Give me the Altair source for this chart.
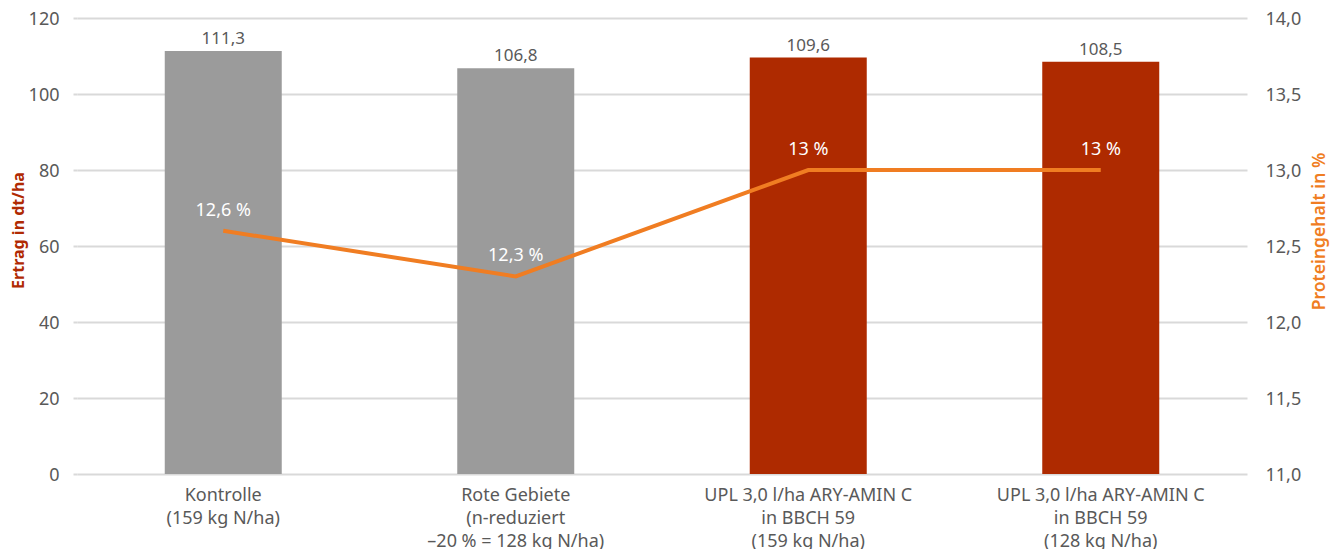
import altair as alt
import pandas as pd

categories = [
    "Kontrolle|(159 kg N/ha)",
    "Rote Gebiete|(n-reduziert|–20 % = 128 kg N/ha)",
    "UPL 3,0 l/ha ARY-AMIN C|in BBCH 59|(159 kg N/ha)",
    "UPL 3,0 l/ha ARY-AMIN C|in BBCH 59|(128 kg N/ha)",
]
ertrag = [111.3, 106.8, 109.6, 108.5]
protein = [12.6, 12.3, 13.0, 13.0]
groups = ["grau", "grau", "rot", "rot"]


def de(v, pct=False):
    s = f"{v:.1f}".replace(".", ",")
    if pct:
        s = (f"{v:.0f}" if float(v).is_integer() else s) + " %"
    return s


df = pd.DataFrame({
    "kat": categories,
    "ertrag": ertrag,
    "protein": protein,
    "gruppe": groups,
    "ertrag_lbl": [de(v) for v in ertrag],
    "protein_lbl": [de(v, True) for v in protein],
})

FONT = "Noto Sans"
GREY_TXT = "#595959"
FS = 18

x = alt.X(
    "kat:N",
    sort=categories,
    title=None,
    scale=alt.Scale(paddingInner=0.6, paddingOuter=0.3),
    axis=alt.Axis(
        labelExpr="split(datum.label, '|')",
        labelAngle=0,
        labelFontSize=FS,
        labelColor=GREY_TXT,
        labelFont=FONT,
        labelLineHeight=23,
        labelPadding=12,
        labelLimit=400,
        domain=False,
        ticks=False,
        labelBaseline="top",
    ),
)

left_axis = alt.Axis(
    values=[0, 20, 40, 60, 80, 100, 120],
    title="Ertrag in dt/ha",
    titleColor="#B02A02",
    titleFontSize=16,
    titleFont=FONT,
    titleFontWeight="bold",
    titleAngle=270,
    titleX=-59,
    titleY=212,
    titleAlign="center",
    titleBaseline="middle",
    labelFontSize=FS,
    labelColor=GREY_TXT,
    labelFont=FONT,
    labelPadding=14,
    labelOffset=1,
    domain=False,
    ticks=True,
    tickSize=4,
    tickColor="#D9D9D9",
    tickWidth=2,
    grid=True,
    gridColor="#D9D9D9",
    gridWidth=2,
)

right_axis = alt.Axis(
    orient="right",
    values=[11.0, 11.5, 12.0, 12.5, 13.0, 13.5, 14.0],
    labelExpr="replace(format(datum.value, '.1f'), '.', ',')",
    title="Proteingehalt in %",
    titleColor="#F07D22",
    titleFontSize=17.5,
    titleFont=FONT,
    titleFontWeight=600,
    titleAngle=270,
    titleX=72,
    titleY=213,
    titleAlign="center",
    titleBaseline="middle",
    labelFontSize=FS,
    labelColor=GREY_TXT,
    labelFont=FONT,
    labelPadding=18,
    labelOffset=1,
    domain=False,
    ticks=False,
    grid=False,
)

y_left = alt.Y("ertrag:Q", scale=alt.Scale(domain=[0, 120], nice=False), axis=left_axis)
y_right = alt.Y("protein:Q", scale=alt.Scale(domain=[11, 14], nice=False), axis=right_axis)

base = alt.Chart(df)

bars = base.mark_bar(size=117).encode(
    x=x,
    y=y_left,
    color=alt.Color(
        "gruppe:N",
        scale=alt.Scale(domain=["grau", "rot"], range=["#9B9B9B", "#AE2A00"]),
        legend=None,
    ),
)
bar_text = base.mark_text(
    baseline="bottom", dy=-3, fontSize=17, font=FONT, color=GREY_TXT
).encode(x=x, y=y_left, text="ertrag_lbl:N")

line = base.mark_line(color="#F07D22", strokeWidth=4).encode(x=x, y=y_right)
line_text = base.mark_text(
    baseline="middle", dy=-20, fontSize=FS, font=FONT, color="white"
).encode(x=x, y=y_right, text="protein_lbl:N")

chart = (
    alt.layer(alt.layer(bars, bar_text), alt.layer(line, line_text))
    .resolve_scale(y="independent")
    .properties(
        width=1170,
        height=456,
        padding={"left": 69, "top": 10, "right": 83, "bottom": 80},
        autosize=alt.AutoSizeParams(type="none"),
        background="white",
    )
    .configure_view(stroke=None)
)

chart.save("out.html", embed_options={"renderer": "svg", "actions": False})
